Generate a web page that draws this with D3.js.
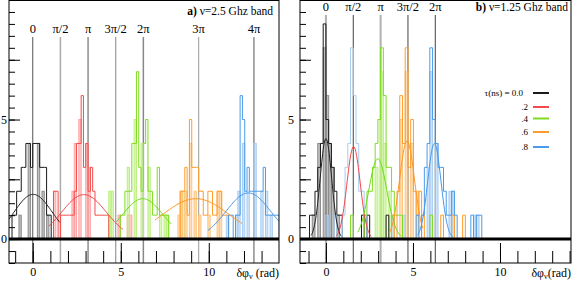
<!DOCTYPE html>
<html><head><meta charset="utf-8">
<script src="https://cdn.jsdelivr.net/npm/d3@7"></script>
<style>
body{margin:0;background:#fff}
svg{display:block}
text{font-family:"Liberation Serif","Times New Roman",serif;fill:#000}
</style>
</head><body>
<svg id="c" width="574" height="284"></svg>
<script>
// ---------------- DATA ----------------
const tauLabels = ["τ(ns) = 0.0", ".2", ".4", ".6", ".8"];
const phaseLabelsA = ["0", "π/2", "π", "3π/2", "2π", "3π", "4π"];
const phaseMultA = [0, 0.5, 1, 1.5, 2, 3, 4];          // multiples of π
const phaseLabelsB = ["0", "π/2", "π", "3π/2", "2π"];
const phaseMultB = [0, 0.5, 1, 1.5, 2];
const yTickLabels = [0, 5];
const xTickLabels = [0, 5, 10];
const titleA = ["a)", " ν=2.5 Ghz band"];
const titleB = ["b)", " ν=1.25 Ghz band"];

// Panel a (2.5 GHz): bin width π/24, first bin index + counts per τ
const binsPerPiA = 24;
const histA_start = [-9, 9, 38, 64, 85];
const histA = [
  [1,1,2,2,3,3,4,4,3,4,4,4,3,3,3,1,1],
  [2,2,0,1,1,1,1,1,1,2,4,4,6,3,4,2,3,2,1,1,1,1,1,1],
  [1,1,2,2,2,4,4,7,3,2,4,5,2,2,1,1,3,1,1,1,1],
  [2,2,3,1,5,3,3,3,2,2,1,1,2,2,1,1,2,2,1,1,1],
  [1,1,0,1,1,6,5,2,3,2,2,2,2,2,2,3,1,1,1,1,1,1]
];
const histA2_start = [-6, 9, 33, 63, 84];
const histA2 = [
  [1,0,0,0,4,0,0,0,4,0,2,0,1],
  [2,0,0,0,0,0,0,0,2,4,0,5,0,0,4,3,0,0,0,0,0,0,0,0,0,0,0,0,1,0,0,0,1,1],
  [2,2,0,0,0,0,0,0,3,0,0,5,0,0,4,0,0,3,0,0,0,0,1,0,1,1,0,0,0,0,0,2,2],
  [1,2,0,2,0,4,0,2,0,1,0,0,0,1,0,0,0,2,2],
  [1,0,0,0,1,2,0,4,0,2,0,0,4,0,0,2,0,2,0,1]
];
// Gaussian fits, panel a
const fitA_amp   = [1.87, 1.86, 1.69, 1.69, 1.93];
const fitA_mean  = [0.02, 2.91, 6.25, 9.27, 12.25];
const fitA_sigma = [1.08, 1.27, 1.15, 1.90, 1.26];
const fitA_lo    = [-1.36, 0.92, 4.74, 6.94, 9.95];
const fitA_hi    = [1.53, 5.12, 7.86, 11.90, 13.99];

// Panel b (1.25 GHz): bin width π/20
const binsPerPiB = 20;
const histB_start = [-6, 0, 9, 24, 33];
const histB = [
  [1,1,2,3,4,9,5,4,3,2,1,1,0,0,0,0,0,0,0,1,0,1,0,0,0,0,0,0,1],
  [1,0,0,1,0,0,1,3,4,8,6,4,2,2,1],
  [1,0,0,0,0,1,2,2,3,4,5,8,6,3,3,2,1,1,1,0,0,0,0,0,0,0,0,0,0,1],
  [1,0,2,6,4,8,3,5,2,1,2,1,0,0,0,0,0,0,1,0,0,0,1,0,0,0,1],
  [1,0,1,3,4,8,5,4,3,3,2,1,1,2,1,0,0,0,0,0,1,0,1,1]
];
const histB2_start = [-5, 0, 18, 27, 24];
const histB2 = [
  [1,0,4,0,8,6,4,3,0,1],
  [],
  [3,0,7,4,0,2],
  [5,0,7,0,4,0,2],
  [1,0,0,0,1,0,0,0,0,0,0,0,0,3,7,0,4,0,0,0,0,2,2,0,0,0,0,0,0,0,1,1]
];
const fitB_amp   = [4.2, 3.87, 3.36, 4.1, 4.0];
const fitB_mean  = [0.0, 1.59, 2.98, 4.66, 6.23];
const fitB_sigma = [0.33, 0.38, 0.52, 0.43, 0.38];
const fitB_lo    = [-0.85, 0.59, 1.83, 3.65, 5.27];
const fitB_hi    = [0.88, 2.60, 4.32, 5.56, 7.28];

// ---------------- STYLE ----------------
const mainCol  = ["#1a1a1a", "#f24c4c", "#7fdc22", "#ff9c2a", "#4b9be8"];
const lightCol = ["#8c8c8c", "#ffa3a3", "#bdef80", "#ffc57e", "#a8cdf2"];
const fitCol   = ["#222222", "#f04848", "#6fd81c", "#ff9522", "#4597ea"];
const mainColB = ["#1a1a1a", "#a8cdf2", "#7fdc22", "#ff9c2a", "#4b9be8"];

const svg = d3.select("#c");
const defs = svg.append("defs");
const yS = d3.scaleLinear().domain([-1, 10]).range([263, 0]);

function panel(cfg) {
  const x = d3.scaleLinear().domain(cfg.dom).range([cfg.x0, cfg.x1]);
  const bw = Math.PI / cfg.binsPerPi;
  defs.append("clipPath").attr("id", "clip" + cfg.id)
    .append("rect").attr("x", cfg.x0).attr("y", 0)
    .attr("width", cfg.x1 - cfg.x0).attr("height", 263);
  const g = svg.append("g");
  const inner = g.append("g").attr("clip-path", `url(#clip${cfg.id})`);

  // reference phase lines
  cfg.phases.forEach((m, i) => {
    const px = x(m * Math.PI);
    inner.append("line").attr("x1", px).attr("x2", px)
      .attr("y1", cfg.lineTop).attr("y2", 263)
      .attr("stroke", cfg.lineColors[i]).attr("stroke-width", cfg.lineWidths[i]);
    g.append("text").attr("x", px).attr("y", cfg.labelY)
      .attr("text-anchor", "middle").attr("font-size", 12.5)
      .text(cfg.phaseLabels[i]);
  });

  // light histograms (bars)
  cfg.h2.forEach((counts, s) => {
    const k0 = cfg.h2Start[s];
    counts.forEach((c, j) => {
      if (!c) return;
      const k = k0 + j;
      inner.append("rect")
        .attr("x", x(k * bw)).attr("width", x((k + 1) * bw) - x(k * bw))
        .attr("y", yS(c)).attr("height", yS(0) - yS(c))
        .attr("fill", cfg.lightCol[s]).attr("fill-opacity", 0.55)
        .attr("stroke", cfg.lightCol[s]).attr("stroke-width", 1);
    });
  });

  // main histograms (step outline)
  const step = d3.line().x(d => x(d[0])).y(d => yS(d[1])).curve(d3.curveStepAfter);
  cfg.h.forEach((counts, s) => {
    const k0 = cfg.hStart[s];
    const pts = [[k0 * bw, 0]];
    counts.forEach((c, j) => pts.push([(k0 + j) * bw, c]));
    pts.push([(k0 + counts.length) * bw, 0]);
    inner.append("path").attr("d", step(pts)).attr("fill", "none")
      .attr("stroke", cfg.mainCol[s]).attr("stroke-width", 1);
  });

  // Gaussian fits
  const fl = d3.line().x(d => x(d[0])).y(d => yS(d[1]));
  cfg.fit.amp.forEach((a, s) => {
    const lo = cfg.fit.lo[s], hi = cfg.fit.hi[s];
    const pts = d3.range(0, 61).map(i => {
      const v = lo + (hi - lo) * i / 60;
      const z = (v - cfg.fit.mean[s]) / cfg.fit.sigma[s];
      return [v, a * Math.exp(-0.5 * z * z)];
    });
    inner.append("path").attr("d", fl(pts)).attr("fill", "none")
      .attr("stroke", fitCol[s]).attr("stroke-width", 1);
  });

  // zero line
  g.append("line").attr("x1", cfg.x0).attr("x2", cfg.x1)
    .attr("y1", yS(0)).attr("y2", yS(0))
    .attr("stroke", "#000").attr("stroke-width", 3);

  // axes
  const yMinor = d3.axisLeft(yS).tickValues(d3.range(-1, 10.01, 0.5))
    .tickSize(-6).tickFormat("");
  const yMajor = d3.axisLeft(yS).tickValues([0, 2.5, 5, 7.5, 10])
    .tickSize(-11).tickPadding(cfg.yPad)
    .tickFormat(d => yTickLabels.includes(d) ? String(d) : "");
  const xMinor = d3.axisBottom(x).tickValues(d3.range(Math.ceil(cfg.dom[0]), Math.floor(cfg.dom[1]) + 1))
    .tickSize(-12).tickFormat("");
  const xMajor = d3.axisBottom(x).tickValues(xTickLabels)
    .tickSize(-20).tickPadding(4).tickFormat(d => String(d));
  [[yMinor, `translate(${cfg.x0},0)`], [yMajor, `translate(${cfg.x0},0)`],
   [xMinor, `translate(0,263)`], [xMajor, `translate(0,263)`]].forEach(([ax, tr]) => {
    const a = g.append("g").attr("transform", tr).call(ax);
    a.select(".domain").remove();
    a.selectAll("line").attr("stroke", "#000").attr("stroke-width", 1);
    a.selectAll("text").attr("font-family", '"Liberation Serif","Times New Roman",serif')
      .attr("font-size", 12).attr("fill", "#000");
  });

  // frame
  g.append("rect").attr("x", cfg.x0).attr("y", 0.5)
    .attr("width", cfg.x1 - cfg.x0).attr("height", 262.5)
    .attr("fill", "none").attr("stroke", "#000").attr("stroke-width", 1);

  // title
  const t = g.append("text").attr("x", cfg.titleX).attr("y", cfg.titleY)
    .attr("text-anchor", "end").attr("font-size", 11.5);
  t.append("tspan").attr("font-weight", "bold").text(cfg.title[0]);
  t.append("tspan").text(cfg.title[1]);

  // x-axis title
  const xt = g.append("text").attr("x", cfg.x1).attr("y", 277)
    .attr("text-anchor", "end").attr("font-size", 12);
  xt.append("tspan").text("δφ");
  xt.append("tspan").attr("font-size", 8).attr("dy", 2).text("ν");
  xt.append("tspan").attr("dy", -2).text(cfg.xSep + "(rad)");
  return x;
}

panel({
  id: "A", x0: 9, x1: 279, dom: [-1.35, 13.99], binsPerPi: binsPerPiA,
  phases: phaseMultA, phaseLabels: phaseLabelsA, labelY: 33, lineTop: 37,
  lineColors: ["#555", "#aaa", "#555", "#999", "#888", "#aaa", "#555"],
  lineWidths: [1, 1.5, 1, 1.2, 1.5, 1.2, 1],
  h: histA, hStart: histA_start, h2: histA2, h2Start: histA2_start,
  mainCol: mainCol, lightCol: lightCol,
  fit: {amp: fitA_amp, mean: fitA_mean, sigma: fitA_sigma, lo: fitA_lo, hi: fitA_hi},
  title: titleA, titleX: 273, titleY: 15, xSep: " ", yPad: 2
});

panel({
  id: "B", x0: 300, x1: 571, dom: [-1.49, 14.08], binsPerPi: binsPerPiB,
  phases: phaseMultB, phaseLabels: phaseLabelsB, labelY: 11, lineTop: 15,
  lineColors: ["#b0b0b0", "#444", "#b0b0b0", "#444", "#444"],
  lineWidths: [2, 1, 2, 1, 1],
  h: histB, hStart: histB_start, h2: histB2, h2Start: histB2_start,
  mainCol: mainColB, lightCol: lightCol,
  fit: {amp: fitB_amp, mean: fitB_mean, sigma: fitB_sigma, lo: fitB_lo, hi: fitB_hi},
  title: titleB, titleX: 568, titleY: 11, xSep: "", yPad: 6
});

// legend (panel b)
const legY = [93, 107, 118.5, 132, 147];
tauLabels.forEach((lab, i) => {
  svg.append("text").attr("x", i === 0 ? 523 : 528).attr("y", legY[i] + 3)
    .attr("text-anchor", "end").attr("font-size", 9).text(lab);
  svg.append("line").attr("x1", 533).attr("x2", 549)
    .attr("y1", legY[i]).attr("y2", legY[i])
    .attr("stroke", mainCol[i]).attr("stroke-width", 2);
});
</script>
</body></html>
